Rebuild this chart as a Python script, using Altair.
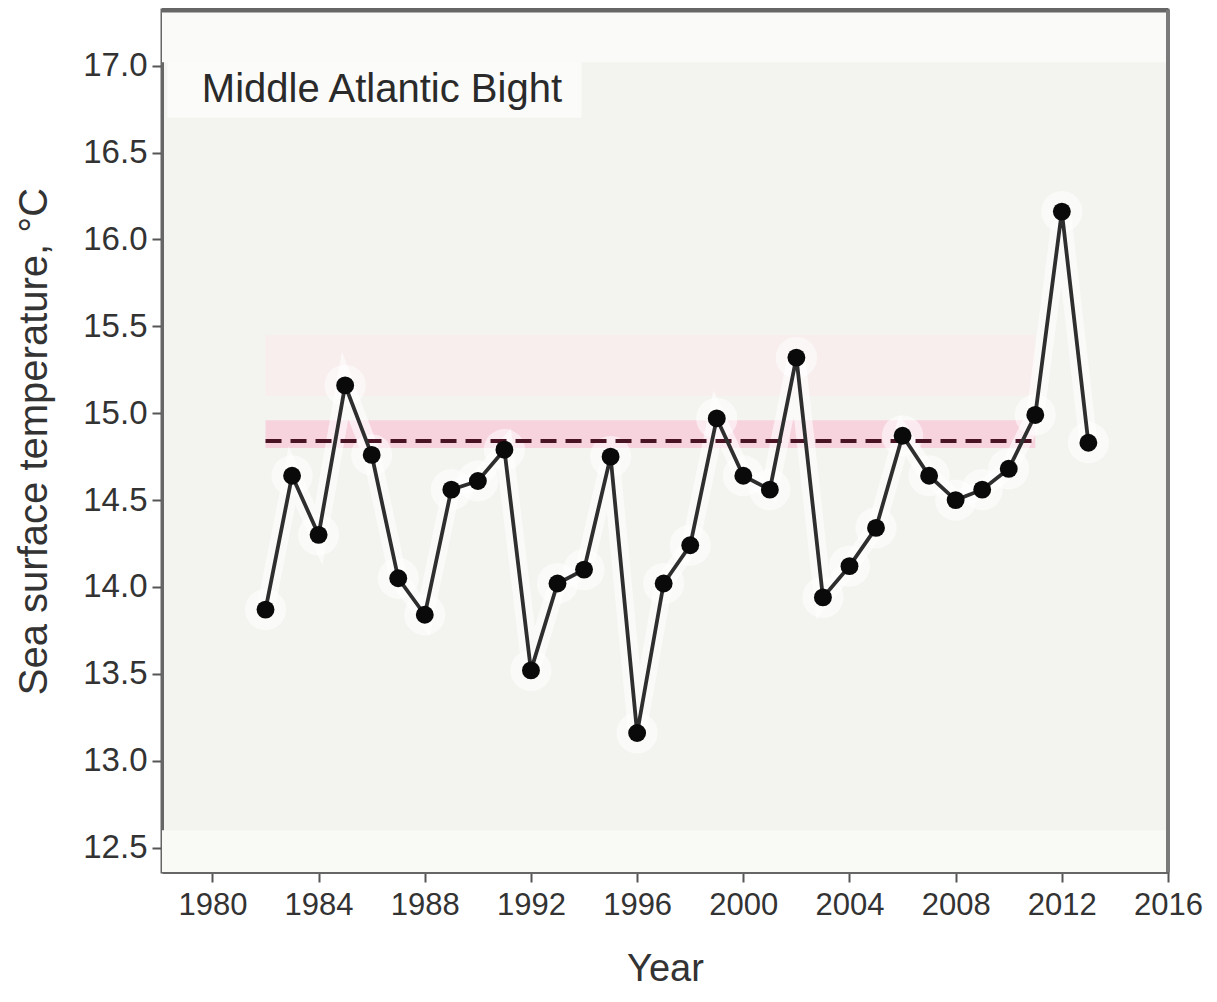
import altair as alt
import pandas as pd

# ---- data ----
years = list(range(1982, 2014))
sst = [13.87, 14.64, 14.30, 15.16, 14.76, 14.05, 13.84, 14.56, 14.61, 14.79,
       13.52, 14.02, 14.10, 14.75, 13.16, 14.02, 14.24, 14.97, 14.64, 14.56,
       15.32, 13.94, 14.12, 14.34, 14.87, 14.64, 14.50, 14.56, 14.68, 14.99,
       16.16, 14.83]
mean_years = [1982, 2011]
mean_value = 14.84
band_low, band_high = 14.80, 14.96
faint_low, faint_high = 15.10, 15.45
x_ticks = list(range(1980, 2017, 4))
y_ticks = [12.5, 13.0, 13.5, 14.0, 14.5, 15.0, 15.5, 16.0, 16.5, 17.0]
label_text = "Middle Atlantic Bight"

X_DOM = [1978.1, 2016.0]
Y_DOM = [12.36, 17.32]
FONT = "Liberation Sans"

df = pd.DataFrame({"year": years, "sst": sst})

xs = alt.Scale(domain=X_DOM, nice=False, zero=False)
ys = alt.Scale(domain=Y_DOM, nice=False, zero=False)

x_axis = alt.Axis(values=x_ticks, format="d", title="Year", grid=False,
                  labelFontSize=31, labelFont=FONT, labelColor="#333",
                  labelFlush=False, labelOverlap=False,
                  tickSize=10, tickColor="#555", tickWidth=2,
                  domainColor="#666", domainWidth=3, labelPadding=8,
                  titleFontSize=38, titleFont=FONT, titleFontWeight="normal",
                  titleColor="#333", titleY=97, titleBaseline="middle")
y_axis = alt.Axis(values=y_ticks, format=".1f", title="Sea surface temperature, °C",
                  grid=False, labelFontSize=33, labelFont=FONT, labelColor="#333",
                  labelFlush=False, labelOverlap=False,
                  tickSize=10, tickColor="#555", tickWidth=2,
                  domainColor="#666", domainWidth=3, labelPadding=5,
                  titleFontSize=40, titleFont=FONT, titleFontWeight="normal",
                  titleColor="#333", titleX=-128, titleBaseline="middle")

def rect_layer(x, x2, y, y2, color):
    d = pd.DataFrame({"x": [x], "x2": [x2], "y": [y], "y2": [y2]})
    return alt.Chart(d).mark_rect(color=color).encode(
        x=alt.X("x:Q", scale=xs), x2="x2", y=alt.Y("y:Q", scale=ys), y2="y2")

# background decorations
top_band = alt.Chart(pd.DataFrame({"x": [X_DOM[0]], "x2": [X_DOM[1]], "y": [17.02], "y2": [Y_DOM[1]]})).mark_rect(
    color="#fafaf8").encode(x=alt.X("x:Q", scale=xs, axis=x_axis), x2="x2",
                            y=alt.Y("y:Q", scale=ys, axis=y_axis), y2="y2")
bottom_band = rect_layer(X_DOM[0], X_DOM[1], Y_DOM[0], 12.6, "#f9f9f6")
faint_band = rect_layer(mean_years[0], mean_years[1], faint_low, faint_high, "#f8eeee")
pink_band = rect_layer(mean_years[0], mean_years[1], band_low, band_high, "#f7d3de")

base = alt.Chart(df).encode(x=alt.X("year:Q", scale=xs), y=alt.Y("sst:Q", scale=ys))
glow_line = base.mark_line(color="white", strokeWidth=18, opacity=0.6)
glow_pts = base.mark_point(filled=True, color="white", size=1700, opacity=0.55)

mean_df = pd.DataFrame({"year": mean_years, "m": [mean_value, mean_value]})
mean_line = alt.Chart(mean_df).mark_line(color="#4a1424", strokeWidth=4, strokeDash=[16, 9]).encode(
    x=alt.X("year:Q", scale=xs), y=alt.Y("m:Q", scale=ys))

line = base.mark_line(color="#2e2e2e", strokeWidth=3.8)
pts = base.mark_point(filled=True, color="#0a0a0a", size=320, opacity=1)

box = rect_layer(1978.3, 1993.9, 16.70, 17.02, "#fbfbfa")
txt = alt.Chart(pd.DataFrame({"x": [1979.6], "y": [16.86], "t": [label_text]})).mark_text(
    align="left", baseline="middle", fontSize=40, font=FONT, color="#2a2a2a").encode(
    x=alt.X("x:Q", scale=xs), y=alt.Y("y:Q", scale=ys), text="t:N")

# plot frame (top and right edges)
top_edge = alt.Chart(pd.DataFrame({"y": [Y_DOM[1]]})).mark_rule(color="#666666", strokeWidth=5).encode(
    y=alt.Y("y:Q", scale=ys))
right_edge = alt.Chart(pd.DataFrame({"x": [X_DOM[1]]})).mark_rule(color="#7a7a7a", strokeWidth=4).encode(
    x=alt.X("x:Q", scale=xs))

chart = alt.layer(top_band, bottom_band, faint_band, pink_band, glow_line, glow_pts,
                  mean_line, line, pts, box, txt, top_edge, right_edge).properties(
    width=1006, height=862,
    padding={"left": 154, "top": 2, "right": 40, "bottom": 122},
    autosize=alt.AutoSizeParams(type="none"),
    background="white",
).configure_view(stroke="#666666", strokeWidth=3, fill="#f3f4ef")

chart.save("out.html", embed_options={"renderer": "svg", "actions": False})
